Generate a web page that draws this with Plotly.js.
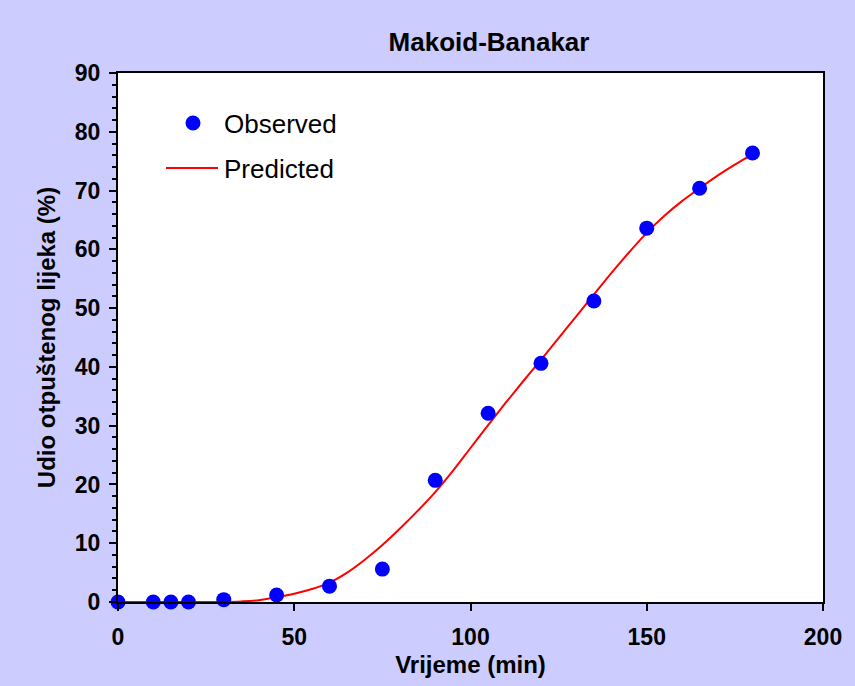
<!DOCTYPE html>
<html>
<head>
<meta charset="utf-8">
<script src="https://cdn.plot.ly/plotly-3.0.1.min.js"></script>
<style>html,body{margin:0;padding:0;background:#CCCCFF;}#chart{width:855px;height:686px;}</style>
</head>
<body>
<div id="chart"></div>
<script>
// Observed data
const obsTime = [0, 10, 15, 20, 30, 45, 60, 75, 90, 105, 120, 135, 150, 165, 180];
const obsRelease = [0, 0, 0, 0, 0.4, 1.2, 2.7, 5.6, 20.7, 32.1, 40.6, 51.2, 63.6, 70.4, 76.4];
// Predicted
const predTime = [0, 10, 20, 30, 35, 40, 45, 50, 55, 60, 65, 70, 75, 80, 85, 90, 95, 100, 105, 110, 115, 120, 125, 130, 135, 140, 145, 150, 155, 160, 165, 170, 175, 180];
const predRelease = [0, 0, 0, 0.02, 0.1, 0.3, 0.8, 1.4, 2.2, 3.3, 5.0, 7.2, 9.7, 12.5, 15.5, 18.7, 22.3, 26.2, 30.1, 33.9, 37.6, 41.2, 44.9, 48.6, 52.3, 56.0, 59.5, 62.8, 65.7, 68.2, 70.4, 72.5, 74.4, 76.2];
const xTicks = [0, 50, 100, 150, 200];
const yTicks = [0, 10, 20, 30, 40, 50, 60, 70, 80, 90];
const legendNames = ['Observed', 'Predicted'];

const F = 'Arial, "Liberation Sans", sans-serif';
const L = 118, R = 32, T = 73, B = 84, W = 855, H = 686;
const pw = W - L - R, ph = H - T - B;
const px2x = p => (p - L) / pw;
const py2y = p => (H - B - p) / ph;

const data = [
  {x: predTime, y: predRelease, type: 'scatter', mode: 'lines', name: legendNames[1],
   line: {color: '#FF0000', width: 2, shape: 'spline', smoothing: 1}, cliponaxis: false},
  {x: obsTime, y: obsRelease, type: 'scatter', mode: 'markers', name: legendNames[0],
   marker: {color: '#0000FF', size: 15}, cliponaxis: false}
];

// manual legend (Excel style)
const r = 7.5;
const shapes = [
  {type: 'circle', xref: 'paper', yref: 'paper', xsizemode: 'pixel', ysizemode: 'pixel',
   xanchor: px2x(193), yanchor: py2y(123), x0: -r, x1: r, y0: -r, y1: r,
   fillcolor: '#0000FF', line: {width: 0}},
  {type: 'line', xref: 'paper', yref: 'paper', x0: px2x(166), x1: px2x(218), y0: py2y(168), y1: py2y(168),
   line: {color: '#FF0000', width: 2}}
];
const annotations = [
  {text: legendNames[0], xref: 'paper', yref: 'paper', x: px2x(222), y: py2y(124), xanchor: 'left', yanchor: 'middle',
   showarrow: false, font: {family: F, size: 26, color: '#000'}},
  {text: legendNames[1], xref: 'paper', yref: 'paper', x: px2x(222), y: py2y(169), xanchor: 'left', yanchor: 'middle',
   showarrow: false, font: {family: F, size: 26, color: '#000'}}
];

const layout = {
  width: W, height: H,
  paper_bgcolor: '#CCCCFF', plot_bgcolor: '#FFFFFF',
  margin: {l: L, r: R, t: T, b: B},
  font: {family: F, color: '#000'},
  title: {text: '<b>Makoid-Banakar</b>', font: {family: F, size: 26, color: '#000'},
          xref: 'paper', x: px2x(489), xanchor: 'center', yref: 'container', y: 1 - 42 / H, yanchor: 'middle'},
  showlegend: false,
  shapes: shapes,
  annotations: annotations,
  xaxis: {range: [0, 200], tickvals: xTicks, ticks: 'outside', ticklen: 7, tickwidth: 2,
          tickcolor: '#000', showline: true, linecolor: '#000', linewidth: 2, mirror: true,
          showgrid: false, zeroline: false, ticklabelstandoff: 6,
          tickfont: {family: F, size: 23, color: '#000', weight: 'bold'},
          title: {text: '<b>Vrijeme (min)</b>', font: {family: F, size: 24, color: '#000'}, standoff: 8}},
  yaxis: {range: [0, 90], tickvals: yTicks, ticks: 'outside', ticklen: 7, tickwidth: 2,
          tickcolor: '#000', showline: true, linecolor: '#000', linewidth: 2, mirror: true,
          showgrid: false, zeroline: false, ticklabelstandoff: 4,
          minor: {dtick: 2, ticks: 'outside', ticklen: 4, tickwidth: 1.5, tickcolor: '#000', showgrid: false},
          tickfont: {family: F, size: 23, color: '#000', weight: 'bold'},
          title: {text: '<b>Udio otpuštenog lijeka (%)</b>', font: {family: F, size: 24, color: '#000'}, standoff: 12}}
};

Plotly.newPlot('chart', data, layout, {displayModeBar: false});
</script>
</body>
</html>
